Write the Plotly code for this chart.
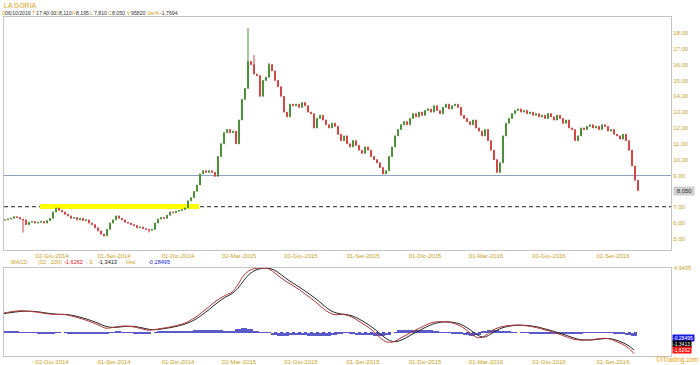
import plotly.graph_objects as go

# ---------------- data ----------------
# closes sampled every 3 trading days (x = trading-day position)
close = [
    6.2, 6.25, 6.3, 6.4, 6.35, 6.25, 6.2,
    5.9, 6.05, 6.1, 6.0, 6.05, 6.1, 6.0, 6.15, 6.3,
    6.7, 6.95, 6.8, 6.7, 6.55, 6.45, 6.3, 6.35,
    6.2, 6.3, 6.15, 6.2, 6.0, 5.9, 5.7, 5.5, 5.3,
    5.2, 5.6, 6.0, 6.2, 6.45, 6.3, 6.2, 6.05, 6.0,
    5.9, 5.85, 5.7, 5.75, 5.65, 5.6, 5.55, 5.6, 6.0,
    6.25, 6.35, 6.3, 6.5, 6.7, 6.65, 6.75, 6.8, 6.85,
    6.95, 7.4, 7.6, 8.0, 8.4, 9.1, 9.3, 9.2, 9.3,
    9.2, 8.95, 10.2, 11.0, 11.7, 11.9, 11.7, 11.8, 11.0,
    12.5, 13.8, 14.5, 16.2, 16.0, 15.4, 15.3, 14.0, 15.0,
    15.2, 16.0, 15.6, 15.0, 14.6, 14.0, 13.0, 12.7, 13.5,
    13.4, 13.5, 13.3, 13.6, 13.4, 13.0, 12.9, 12.0, 12.6,
    12.8, 12.5, 12.2, 12.0, 12.3, 12.1, 11.6, 11.2, 11.5,
    11.0, 10.8, 11.2, 10.9, 10.6, 10.4, 10.8, 10.6, 10.2,
    10.0, 9.8, 9.5, 9.1, 9.3, 10.2, 10.8, 11.5, 11.9,
    12.2, 12.4, 12.2, 12.6, 12.9, 12.7, 13.0, 12.8, 13.1,
    13.2, 13.0, 13.4, 13.1, 12.9, 13.3, 13.5, 13.2, 13.4,
    13.5, 13.3, 12.8, 12.6, 12.4, 12.2, 12.5, 12.0, 11.8,
    11.5, 11.9, 11.2, 10.6, 10.0, 9.2, 9.8, 11.5, 12.3,
    12.6, 12.9, 13.1, 13.2, 13.0, 13.1, 12.9, 13.0, 12.8,
    12.9, 12.7, 12.8, 12.6, 12.9, 12.7, 12.5, 12.8, 12.6,
    12.3, 12.5, 12.0, 11.9, 11.2, 11.5, 12.0, 11.9, 12.1,
    12.2, 12.0, 12.1, 11.9, 12.2, 12.1, 11.8, 11.9, 11.6,
    11.5, 11.3, 11.6, 11.2, 10.6, 9.6, 8.7, 8.05,
]
high_override = {81: 18.3, 83: 16.6, 88: 16.1}
low_override = {6: 5.4, 33: 5.15, 48: 5.4}

macd = [
    1.50, 1.58, 1.65, 1.67, 1.63, 1.59, 1.53, 1.45, 1.40, 1.38,
    1.39, 1.30, 1.18, 1.05, 0.90, 0.72, 0.52, 0.33, 0.38, 0.46,
    0.50, 0.47, 0.40, 0.28, 0.18, 0.22, 0.30, 0.37, 0.46, 0.56,
    0.70, 0.92, 1.20, 1.55, 1.92, 2.30, 2.62, 2.88, 3.10, 3.70,
    4.40, 4.78, 4.92, 4.94, 4.90, 4.62, 4.25, 3.92, 3.65, 3.35,
    3.02, 2.68, 2.32, 1.92, 1.58, 1.38, 1.38, 1.35, 1.18, 0.92,
    0.62, 0.30, -0.10, -0.52, -0.74, -0.70, -0.45, -0.20, 0.05, 0.28,
    0.50, 0.72, 0.82, 0.83, 0.80, 0.70, 0.52, 0.22, -0.15, -0.40,
    -0.30, 0.05, 0.30, 0.45, 0.53, 0.57, 0.57, 0.52, 0.45, 0.35,
    0.22, 0.10, -0.05, -0.20, -0.38, -0.52, -0.58, -0.58, -0.55, -0.48,
    -0.44, -0.50, -0.68, -0.88, -1.15, -1.62,
]
signal = [
    1.45, 1.52, 1.58, 1.63, 1.64, 1.62, 1.57, 1.50, 1.44, 1.40,
    1.39, 1.35, 1.26, 1.14, 1.00, 0.84, 0.65, 0.47, 0.40, 0.41,
    0.46, 0.48, 0.45, 0.36, 0.26, 0.22, 0.25, 0.32, 0.40, 0.50,
    0.62, 0.80, 1.04, 1.35, 1.70, 2.08, 2.44, 2.74, 2.98, 3.40,
    4.02, 4.52, 4.80, 4.92, 4.93, 4.80, 4.50, 4.15, 3.84, 3.55,
    3.24, 2.92, 2.58, 2.20, 1.82, 1.56, 1.44, 1.38, 1.28, 1.08,
    0.82, 0.52, 0.18, -0.22, -0.55, -0.70, -0.62, -0.40, -0.14, 0.10,
    0.34, 0.56, 0.72, 0.80, 0.82, 0.77, 0.65, 0.42, 0.10, -0.22,
    -0.35, -0.15, 0.14, 0.35, 0.47, 0.54, 0.57, 0.55, 0.50, 0.42,
    0.30, 0.18, 0.04, -0.10, -0.26, -0.42, -0.54, -0.57, -0.57, -0.52,
    -0.47, -0.47, -0.58, -0.75, -0.98, -1.34,
]

tick_pos = [52, 114, 178, 239, 301, 363, 425, 486, 549, 613]
tick_text = ["02-Giu-2014", "01-Set-2014", "01-Dic-2014", "02-Mar-2015", "01-Giu-2015",
             "01-Set-2015", "01-Dic-2015", "01-Mar-2016", "01-Giu-2016", "01-Set-2016"]
# 8,00 is hidden behind the last-price box in the reference
price_ticks = [5, 6, 7, 9, 10, 11, 12, 13, 14, 15, 16, 17, 18]
price_tick_text = ["5,00", "6,00", "7,00", "9,00", "10,00", "11,00", "12,00",
                   "13,00", "14,00", "15,00", "16,00", "17,00", "18,00"]

# ---------------- derived ----------------
xs = [5 + 3 * i for i in range(len(close))]
opens = [close[0]] + close[:-1]
highs = [max(o, c) for o, c in zip(opens, close)]
lows = [min(o, c) for o, c in zip(opens, close)]
for k, v in high_override.items():
    highs[k] = v
for k, v in low_override.items():
    lows[k] = v

xm = [4 + 6 * i for i in range(len(macd))]
hist = [m - s for m, s in zip(macd, signal)]

GOLD = "#c9a227"
FONT = "Liberation Sans, Arial, sans-serif"
W, H = 700, 365
L, R = 4, 29


def px(x):
    return (x - L) / (W - L - R)


def py(y):
    return 1 - y / H


fig = go.Figure()
fig.add_trace(go.Candlestick(
    x=xs, open=opens, high=highs, low=lows, close=close,
    increasing=dict(line=dict(color="#4d8f3a", width=1), fillcolor="#4d8f3a"),
    decreasing=dict(line=dict(color="#d04848", width=1), fillcolor="#d04848"),
    whiskerwidth=0, xaxis="x", yaxis="y", showlegend=False,
))
fig.add_trace(go.Bar(x=xm, y=hist, width=6, marker=dict(color="#5a5ac8", line=dict(width=0)),
                     xaxis="x2", yaxis="y2", showlegend=False))
fig.add_trace(go.Scatter(x=xm, y=signal, mode="lines", line=dict(color="#2a2a2a", width=1, shape="spline"),
                         xaxis="x2", yaxis="y2", showlegend=False))
fig.add_trace(go.Scatter(x=xm, y=macd, mode="lines", line=dict(color="#b03a3a", width=1, shape="spline"),
                         xaxis="x2", yaxis="y2", showlegend=False))

axis_common = dict(showgrid=False, zeroline=False, showline=True, mirror=True,
                   linecolor="#c4c4c4", linewidth=1, ticks="",
                   tickfont=dict(size=6, color=GOLD, family=FONT))

fig.update_layout(
    width=W, height=H, margin=dict(l=L, r=R, t=0, b=0),
    paper_bgcolor="white", plot_bgcolor="white",
    font=dict(family=FONT),
    boxgap=0.5,
    xaxis=dict(domain=[0, 1], anchor="y", range=[4, 671], tickmode="array",
               tickvals=tick_pos, ticktext=tick_text, rangeslider=dict(visible=False), **axis_common),
    yaxis=dict(domain=[py(250), py(17)], anchor="x", side="right", range=[4.3, 19.0],
               tickmode="array", tickvals=price_ticks, ticktext=price_tick_text, **axis_common),
    xaxis2=dict(domain=[0, 1], anchor="y2", range=[4, 671], tickmode="array",
                tickvals=tick_pos, ticktext=tick_text, **axis_common),
    yaxis2=dict(domain=[py(356), py(268)], anchor="x2", side="right", range=[-1.8, 4.95],
                showticklabels=False, **axis_common),
    bargap=0,
)

shapes = [
    dict(type="rect", xref="x", yref="y", x0=40, x1=199, y0=6.88, y1=7.2,
         fillcolor="#ffff00", line=dict(width=0), layer="below"),
    dict(type="line", xref="x domain", yref="y", x0=0, x1=1, y0=9.0, y1=9.0,
         line=dict(color="#8ea2c6", width=1), layer="below"),
    dict(type="line", xref="x domain", yref="y", x0=0, x1=1, y0=7.03, y1=7.03,
         line=dict(color="#202020", width=1, dash="4px,3px"), layer="below"),
    dict(type="line", xref="x2", yref="y2", x0=4, x1=638, y0=0, y1=0,
         line=dict(color="#4a4ac8", width=1, dash="dot"), layer="below"),
]
fig.update_layout(shapes=shapes)

ann = []


def text(x, y, s, color, size=6.0, bg=None, xanchor="left"):
    d = dict(xref="paper", yref="paper", x=px(x), y=py(y), text=s, showarrow=False,
             xanchor=xanchor, yanchor="middle", font=dict(size=size, color=color, family=FONT),
             borderpad=0)
    if bg:
        d["bgcolor"] = bg
    ann.append(d)


text(3, 5, "LA DORIA", "#e0a020", 7)
header = [(1, "D", GOLD), (4, "06/10/2016", "#333"), (31, "T", GOLD), (35, "17:40:00", "#333"),
          (54, "O", GOLD), (58, "8,110", "#333"), (71, "H", GOLD), (75, "8,195", "#333"),
          (89, "L", GOLD), (93, "7,810", "#333"), (107, "C", GOLD), (111, "8,050", "#333"),
          (126, "V", GOLD), (130, "95820", "#333"), (146, "Var%", GOLD), (159, "-1,7694", "#333")]
for x, s, c in header:
    text(x, 12.5, s, c, 5.2)

macd_hdr = [(10, "MACD", GOLD), (37, "(32 , 200)", GOLD), (63, "-1,6262", "#e02020"),
            (88, "S", GOLD), (97, "-1,3413", "#111"), (125, "Hist", GOLD), (147, "-0,28495", "#2020d0")]
for x, s, c in macd_hdr:
    text(x, 262, s, c, 5.6)

# right-side value boxes
ann.append(dict(xref="paper", yref="y", x=1, y=8.05, xshift=2, text=" 8,050 ", showarrow=False,
                xanchor="left", yanchor="middle", bgcolor="#cfcfcf",
                font=dict(size=6, color="#333", family=FONT), borderpad=1))
text(673, 268, "4,9405", GOLD, 5.6)
for y, s, bg in [(338, "-0,28495", "#1a1ae6"), (344, "-1,3413", "#000000"), (350, "-1,6262", "#ff1010")]:
    ann.append(dict(xref="paper", yref="paper", x=1, y=py(y), xshift=1, text=s + " ",
                    showarrow=False, xanchor="left", yanchor="middle", bgcolor=bg,
                    font=dict(size=5, color="white", family=FONT), borderpad=0))
text(699, 360, "©ITrading.com", "#f0a000", 6.5, xanchor="right")

fig.update_layout(annotations=ann)
fig.write_html("out.html")
